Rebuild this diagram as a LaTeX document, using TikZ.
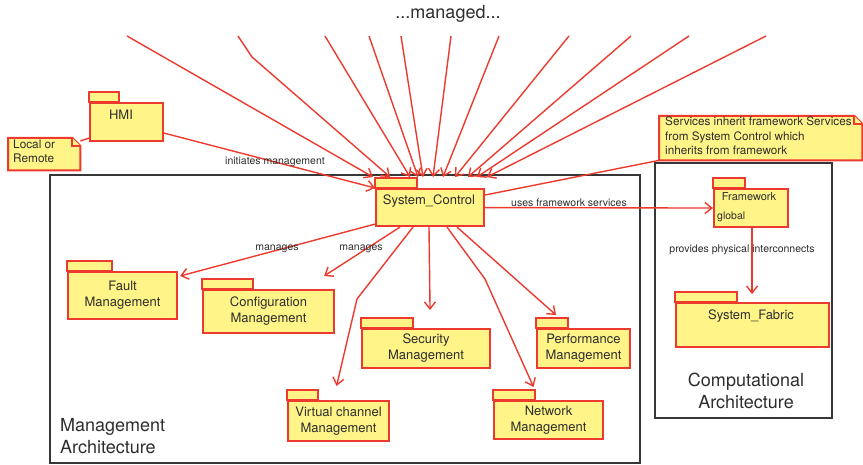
\documentclass[tikz,border=0pt]{standalone}
\usepackage{fontspec}
\setmainfont{TeX Gyre Heros}
\usetikzlibrary{arrows.meta,calc}
\definecolor{pkred}{RGB}{236,58,46}
\definecolor{lnred}{RGB}{236,58,46}
\definecolor{pkfill}{RGB}{255,244,136}
\definecolor{txt}{RGB}{45,45,45}
\definecolor{frm}{RGB}{55,55,55}

% package: #1 name, #2,#3 top-left of body, #4 width, #5 height, #6 tab width, #7 text
\newcommand\umlpkg[7]{%
  \draw[pkgtab] (#2,#3) rectangle ++(#6,-10);
  \node[pkgbody, anchor=north west, minimum width=#4, minimum height=#5] (#1) at (#2,#3) {#7};
}
% note with folded corner: #1 name, #2,#3 top-left, #4 width, #5 height
\newcommand\umlnote[5]{%
  \node[inner sep=0, anchor=north west, minimum width=#4, minimum height=#5] (#1) at (#2,#3) {};
  \filldraw[notebd] (#1.north west) -- ($(#1.north east)+(-8,0)$) -- ($(#1.north east)+(0,8)$)
     -- (#1.south east) -- (#1.south west) -- cycle;
  \draw[notebd] ($(#1.north east)+(-8,0)$) |- ($(#1.north east)+(0,8)$);
}

\tikzset{
  pkgtab/.style={draw=pkred, fill=pkfill, line width=2.1pt},
  pkgbody/.style={draw=pkred, fill=pkfill, line width=2.1pt, inner sep=0,
    text=txt, align=center, font=\fontsize{13}{16}\selectfont},
  pkgtext/.style={text=txt, inner sep=0, font=\fontsize{13}{16}\selectfont},
  notebd/.style={draw=pkred, fill=pkfill, line width=2pt, line join=miter},
  notetext/.style={text=txt, inner sep=0, align=left, anchor=north west},
  link/.style={draw=lnred, line width=1.4pt},
  arr/.style={link, -{Straight Barb[length=7pt,width=11pt,line width=1.4pt]}},
  lbl/.style={text=txt, inner sep=0, font=\fontsize{10.5}{12}\selectfont},
  bigtxt/.style={text=txt, inner sep=0, font=\fontsize{18}{22}\selectfont},
  archframe/.style={draw=frm, line width=1.5pt},
}

\begin{document}
\begin{tikzpicture}[x=1pt,y=-1pt]
\useasboundingbox (0,0) rectangle (863,465);

% architecture frames
\draw[archframe] (50,175) rectangle (640,463);
\draw[archframe] (655,163) rectangle (832,418);
\node[bigtxt, anchor=west, align=left] (mgmtarch) at (60,436) {Management\\Architecture};
\node[bigtxt, align=center] (comparch) at (746,391) {Computational\\Architecture};

\node[bigtxt] (managed) at (448,14) {...managed...};

% packages
\umlpkg{hmi}{89}{102}{73}{38}{30}{}
\node[pkgtext] (hmitext) at (121,115) {HMI};
\umlpkg{sc}{375}{188}{108}{37}{42}{}
\node[pkgtext] (sctext) at (429,201) {System\_Control};
\umlpkg{fw}{713}{188}{74}{38}{32}{}
\node[pkgtext, font=\fontsize{11}{13}\selectfont] (fwtext) at (749,197) {Framework};
\node[pkgtext, font=\fontsize{10.5}{12}\selectfont, anchor=west] (fwglobal) at (717,217) {global};
\umlpkg{fab}{675}{302}{153}{44}{62}{}
\node[pkgtext] (fabtext) at (751,316) {System\_Fabric};
\umlpkg{fault}{67}{271}{109}{47}{45}{Fault\\Management}
\umlpkg{conf}{202}{289}{131}{43}{51}{Configuration\\Management}
\umlpkg{sec}{361}{328}{128}{39}{52}{Security\\Management}
\umlpkg{perf}{536}{328}{93}{39}{32}{Performance\\Management}
\umlpkg{net}{493}{400}{109}{38}{42}{Network\\Management}
\umlpkg{vc}{287}{400}{101}{40}{31}{Virtual channel\\Management}

% notes
\umlnote{lnote}{8}{138}{72}{32}
\node[notetext, font=\fontsize{11.8}{14}\selectfont] (lnotetext) at (13,140) {Local or\\Remote};
\umlnote{snote}{659}{116}{203}{44}
\node[notetext, font=\fontsize{11.7}{14.5}\selectfont] (snotetext) at (665,117)
  {Services inherit framework Services\\from System Control which\\inherits from framework};

% note links
\draw[link] ($(lnote.north east)+(0,3)$) -- ($(hmi.south west)+(0,-4)$);
\draw[link] ($(sc.north east)+(0,7)$) -- (snote.south west);

% incoming management links from above
\foreach \i/\sx/\ex in {1/127/373, 3/325/410, 4/369/418, 5/401/423, 6/451/433,
                        7/499/443, 8/569/455, 9/631/468, 10/689/477, 11/766/487} {
  \coordinate (top\i) at (\sx,36);
  \coordinate (end\i) at (\ex,177);
  \draw[arr] (top\i) -- (end\i);
}
\coordinate (top2) at (238,36);
\coordinate (bend2) at (252,57);
\coordinate (end2) at (390,177);
\draw[arr] (top2) -- (bend2) -- (end2);

% HMI initiates management
\draw[arr] ($(hmi.south east)+(0,-9)$) -- (sc.north west);
\node[lbl] (initlbl) at (275,162) {initiates management};

% framework services
\draw[arr] (sc.east) -- (fw.west);
\node[lbl] (useslbl) at (569,203) {uses framework services};
\coordinate (fabtop) at ($(fw.south)+(1,66)$);
\draw[arr] ($(fw.south)+(1,0)$) -- (fabtop);
\node[lbl] (provlbl) at (742,250) {provides physical interconnects};

% managed packages
\draw[arr] ($(sc.south west)+(0,-3)$) -- ($(fault.north east)+(2,5)$);
\node[lbl] (man1) at (277,249) {manages};
\draw[arr] ($(sc.south west)+(25,0)$) -- ($(conf.north east)+(-11,-13)$);
\node[lbl] (man2) at (361,249) {manages};
\draw[arr] ($(sc.south west)+(38,0)$) -- (357,299) -- ($(vc.north)+(-2,-14)$);
\draw[arr] ($(sc.south west)+(54,0)$) -- ($(sec.north)+(4,-18)$);
\draw[arr] ($(sc.south west)+(72,0)$) -- (485,279) -- ($(net.north)+(-15,-13)$);
\draw[arr] ($(sc.south west)+(82,0)$) -- ($(perf.north west)+(20,-13)$);
\end{tikzpicture}
\end{document}
